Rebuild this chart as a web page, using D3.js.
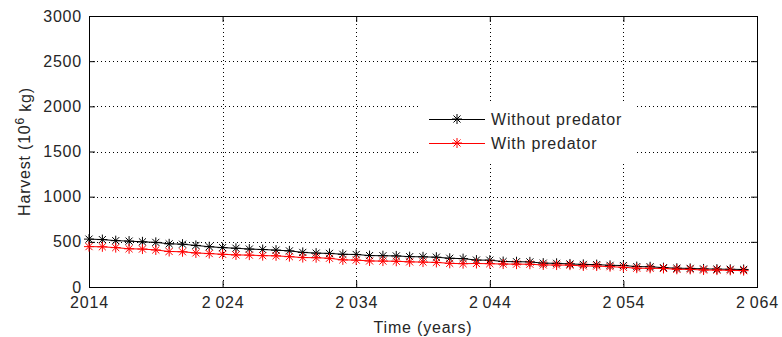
<!DOCTYPE html>
<html>
<head>
<meta charset="utf-8">
<script src="https://cdn.jsdelivr.net/npm/d3@7"></script>
<style>
  html, body { margin: 0; padding: 0; background: #fff; }
  svg { display: block; font-family: "Liberation Sans", Arial, sans-serif; }
  svg text { letter-spacing: 0.8px; }
</style>
</head>
<body>
<div id="chart"></div>
<script>
const years = d3.range(2014, 2064);
const withoutPredator = [530, 525, 513, 508, 500, 494, 478, 474, 460, 446,
  436, 429, 420, 415, 408, 400, 383, 375, 372, 362,
  360, 348, 346, 344, 336, 334, 330, 318, 314, 298,
  297, 282, 280, 278, 264, 262, 255, 250, 248, 240,
  238, 226, 224, 214, 208, 206, 200, 198, 196, 194];
const withPredator = [447, 445, 436, 423, 420, 410, 393, 390, 377, 370,
  362, 355, 353, 347, 345, 336, 326, 324, 318, 300,
  298, 288, 287, 285, 278, 276, 272, 262, 258, 260,
  258, 254, 253, 252, 244, 243, 242, 233, 232, 225,
  218, 208, 207, 205, 196, 195, 188, 187, 185, 181];
const xTicks = [2014, 2024, 2034, 2044, 2054, 2064];
const yTicks = [0, 500, 1000, 1500, 2000, 2500, 3000];
const seriesNames = ["Without predator", "With predator"];
const seriesColors = ["#000000", "#ff0000"];

const width = 782;
const height = 337;
const margin = { top: 16, right: 25, bottom: 50, left: 89 };
const textColor = "#262626";

const svg = d3.select("#chart").append("svg").attr("width", width).attr("height", height);

const x = d3.scaleLinear().domain([2014, 2064]).range([margin.left, width - margin.right]);
const y = d3.scaleLinear().domain([0, 3000]).range([height - margin.bottom, margin.top]);

const fmtYear = (d) => (d === 2014 ? "2014" : d3.format(",")(d).replace(",", "\u2009"));

// dotted grid
const grid = svg.append("g").attr("stroke", "#000").attr("stroke-width", 1).attr("stroke-dasharray", "1,3");
grid.selectAll("line.gx")
  .data(xTicks.slice(1, -1))
  .join("line")
  .attr("x1", (d) => Math.round(x(d)) + 0.5)
  .attr("x2", (d) => Math.round(x(d)) + 0.5)
  .attr("y1", margin.top)
  .attr("y2", height - margin.bottom);
grid.selectAll("line.gy")
  .data(yTicks.slice(1, -1))
  .join("line")
  .attr("y1", (d) => Math.round(y(d)) + 0.5)
  .attr("y2", (d) => Math.round(y(d)) + 0.5)
  .attr("x1", margin.left)
  .attr("x2", width - margin.right);

// axes with inward ticks
const tickLen = 6;
const axisColor = "#000";
const styleText = (g) => g.selectAll("text").attr("fill", textColor).attr("font-size", "16px").attr("font-family", "Liberation Sans, Arial, sans-serif");

svg.append("g")
  .attr("transform", `translate(0,${height - margin.bottom})`)
  .call(d3.axisBottom(x).tickValues(xTicks).tickFormat(fmtYear).tickSizeInner(-tickLen).tickSizeOuter(0).tickPadding(10))
  .call((g) => g.select(".domain").remove())
  .call((g) => g.selectAll("line").attr("stroke", axisColor))
  .call(styleText);

svg.append("g")
  .attr("transform", `translate(0,${margin.top})`)
  .call(d3.axisTop(x).tickValues(xTicks).tickFormat("").tickSizeInner(-tickLen).tickSizeOuter(0))
  .call((g) => g.select(".domain").remove())
  .call((g) => g.selectAll("line").attr("stroke", axisColor));

svg.append("g")
  .attr("transform", `translate(${margin.left},0)`)
  .call(d3.axisLeft(y).tickValues(yTicks).tickFormat(d3.format("d")).tickSizeInner(-tickLen).tickSizeOuter(0).tickPadding(7))
  .call((g) => g.select(".domain").remove())
  .call((g) => g.selectAll("line").attr("stroke", axisColor))
  .call(styleText);

svg.append("g")
  .attr("transform", `translate(${width - margin.right},0)`)
  .call(d3.axisRight(y).tickValues(yTicks).tickFormat("").tickSizeInner(-tickLen).tickSizeOuter(0))
  .call((g) => g.select(".domain").remove())
  .call((g) => g.selectAll("line").attr("stroke", axisColor));

// box
svg.append("rect")
  .attr("x", margin.left + 0.5)
  .attr("y", margin.top + 0.5)
  .attr("width", width - margin.left - margin.right)
  .attr("height", height - margin.top - margin.bottom)
  .attr("fill", "none")
  .attr("stroke", "#000");

// asterisk marker like matlab '*'
function starPath(r) {
  const d = r * Math.SQRT1_2;
  return `M${-r},0L${r},0M0,${-r}L0,${r}M${-d},${-d}L${d},${d}M${-d},${d}L${d},${-d}`;
}

const line = d3.line().x((d) => x(d.year)).y((d) => y(d.value));
const series = [withoutPredator, withPredator].map((vals, i) => ({
  name: seriesNames[i],
  color: seriesColors[i],
  values: years.map((year, j) => ({ year, value: vals[j] })),
}));

series.forEach((s) => {
  const g = svg.append("g");
  g.append("path")
    .attr("d", line(s.values))
    .attr("fill", "none")
    .attr("stroke", s.color)
    .attr("stroke-width", 1);
  g.selectAll("path.m")
    .data(s.values)
    .join("path")
    .attr("class", "m")
    .attr("transform", (d) => `translate(${x(d.year)},${y(d.value)})`)
    .attr("d", starPath(5))
    .attr("stroke", s.color)
    .attr("stroke-width", 1)
    .attr("fill", "none");
});

// legend
const legend = svg.append("g");
legend.append("rect")
  .attr("x", 421).attr("y", 101).attr("width", 213).attr("height", 63)
  .attr("fill", "#fff");
series.forEach((s, i) => {
  const ly = 119 + i * 24;
  legend.append("line").attr("x1", 429).attr("x2", 485).attr("y1", ly + 0.5).attr("y2", ly + 0.5)
    .attr("stroke", s.color);
  legend.append("path").attr("transform", `translate(457,${ly})`).attr("d", starPath(5))
    .attr("stroke", s.color).attr("fill", "none");
  legend.append("text").attr("x", 491).attr("y", ly).attr("dy", "0.36em")
    .attr("font-size", "16px").attr("fill", textColor).text(s.name);
});

// axis titles
svg.append("text")
  .attr("x", (margin.left + width - margin.right) / 2)
  .attr("y", 327)
  .attr("dy", "0.35em")
  .attr("text-anchor", "middle")
  .attr("font-size", "16px")
  .attr("fill", textColor)
  .text("Time (years)");

const yTitle = svg.append("text")
  .attr("transform", `translate(24,${(margin.top + height - margin.bottom) / 2}) rotate(-90)`)
  .attr("text-anchor", "middle")
  .attr("dy", "0.35em")
  .attr("font-size", "16px")
  .attr("fill", textColor);
yTitle.append("tspan").text("Harvest (10");
yTitle.append("tspan").attr("dy", "-0.45em").attr("font-size", "12px").text("6");
yTitle.append("tspan").attr("dy", "0.45em").text(" kg)");
</script>
</body>
</html>
